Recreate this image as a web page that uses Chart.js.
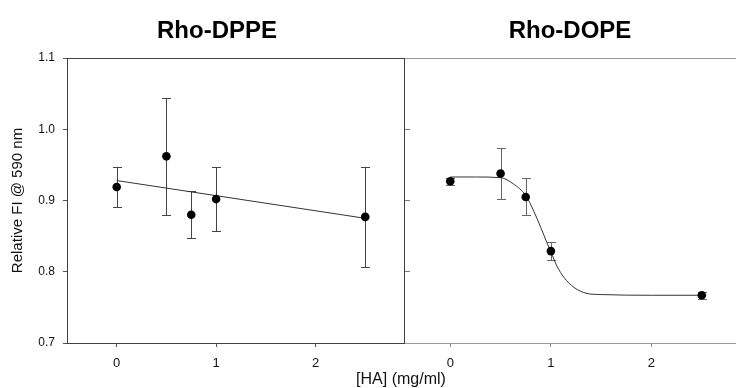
<!DOCTYPE html>
<html>
<head>
<meta charset="utf-8">
<script src="https://cdn.jsdelivr.net/npm/chart.js@4"></script>
<style>
  body { margin: 0; background: #fff; font-family: "Liberation Sans", Arial, sans-serif; }
  #wrap { position: relative; width: 736px; height: 388px; overflow: hidden; background: #fff; }
  canvas { position: absolute; top: 0; }
  #left { left: 0; }
  #right { left: 405px; }
  .title { position: absolute; top: 16px; width: 200px; text-align: center; font-weight: bold; font-size: 24px; line-height: 27px; color: #000; }
  #xtitle { position: absolute; top: 370px; left: 301px; width: 200px; text-align: center; font-size: 16px; line-height: 18px; color: #111; }
</style>
</head>
<body>
<div id="wrap">
  <canvas id="left" width="406" height="388"></canvas>
  <canvas id="right" width="331" height="388"></canvas>
  <div class="title" style="left:117px">Rho-DPPE</div>
  <div class="title" style="left:470px">Rho-DOPE</div>
  <div id="xtitle">[HA] (mg/ml)</div>
</div>
<script>
// HA concentrations (mg/ml)
const doses = [0, 0.5, 0.75, 1, 2.5];

// Rho-DPPE: mean and SD of relative FI, plus linear fit
const dppeMean = [0.919, 0.962, 0.880, 0.902, 0.877];
const dppeSd = [0.028, 0.082, 0.033, 0.045, 0.070];
const dppeFitX = [0, 2.5];
const dppeFitY = [0.928, 0.875];

// Rho-DOPE: mean and SD, plus sigmoidal fit curve
const dopeMean = [0.927, 0.938, 0.905, 0.829, 0.767];
const dopeSd = [0.005, 0.036, 0.026, 0.013, 0.005];
const dopeFitX = [0, 0.25, 0.5, 0.63, 0.75, 0.83, 0.9, 0.96, 1.0, 1.06, 1.13, 1.23, 1.36, 1.5, 2.0, 2.5];
const dopeFitY = [0.933, 0.933, 0.932, 0.923, 0.907, 0.885, 0.862, 0.841, 0.828, 0.808, 0.792, 0.778, 0.7695, 0.768, 0.767, 0.767];

const yTicks = [0.7, 0.8, 0.9, 1.0, 1.1];
const xTicks = [0, 1, 2];

Chart.defaults.font.family = '"Liberation Sans", Arial, sans-serif';
Chart.defaults.color = '#111';

const toPoints = (xs, ys) => xs.map((x, i) => ({ x: x, y: ys[i] }));

// vertical error bars with caps, drawn under the points
const errorBars = {
    id: 'errorBars',
    beforeDatasetsDraw(chart) {
        const { ctx, scales: { x, y } } = chart;
        chart.data.datasets.forEach(ds => {
            if (!ds.errors) return;
            ctx.save();
            ctx.strokeStyle = ds.errorColor;
            ctx.lineWidth = 1;
            ds.data.forEach((p, i) => {
                const px = Math.round(x.getPixelForValue(p.x)) + 0.5;
                const top = Math.round(y.getPixelForValue(p.y + ds.errors[i])) + 0.5;
                const bot = Math.round(y.getPixelForValue(p.y - ds.errors[i])) + 0.5;
                ctx.beginPath();
                ctx.moveTo(px, top); ctx.lineTo(px, bot);
                ctx.moveTo(px - 4.5, top); ctx.lineTo(px + 4.5, top);
                ctx.moveTo(px - 4.5, bot); ctx.lineTo(px + 4.5, bot);
                ctx.stroke();
            });
            ctx.restore();
        });
    }
};

// top (and optionally right) edge of the plot box
const frame = {
    id: 'frame',
    afterDraw(chart, args, opts) {
        const { ctx, chartArea: a } = chart;
        ctx.save();
        ctx.strokeStyle = opts.color;
        ctx.lineWidth = opts.width;
        ctx.beginPath();
        const t = Math.round(a.top) + 0.5;
        ctx.moveTo(a.left, t); ctx.lineTo(a.right, t);
        if (opts.right) {
            const r = Math.round(a.right) - 0.5;
            ctx.moveTo(r, t); ctx.lineTo(r, a.bottom);
        }
        ctx.stroke();
        ctx.restore();
    }
};

// keep the plot box exactly where the layout padding puts it
const noEdgePadding = s => {
    s.paddingLeft = 0; s.paddingRight = 0;
    s.paddingTop = 0; s.paddingBottom = 0;
};

function panel(canvasId, mean, sd, fitX, fitY, cfg) {
    return new Chart(document.getElementById(canvasId), {
        type: 'scatter',
        data: {
            datasets: [
                {
                    data: toPoints(doses, mean),
                    errors: sd,
                    errorColor: cfg.errorColor,
                    pointRadius: 4.3,
                    pointBackgroundColor: '#000',
                    pointBorderWidth: 0,
                },
                {
                    type: 'line',
                    data: toPoints(fitX, fitY),
                    borderColor: '#333',
                    borderWidth: 1,
                    pointRadius: 0,
                    cubicInterpolationMode: 'monotone',
                    fill: false,
                }
            ]
        },
        options: {
            responsive: false,
            animation: false,
            layout: { autoPadding: false, padding: { top: 58, left: 0, right: cfg.padRight, bottom: 0 } },
            scales: {
                x: {
                    type: 'linear',
                    min: cfg.xMin,
                    max: cfg.xMax,
                    afterBuildTicks: s => { s.ticks = xTicks.map(v => ({ value: v })); },
                    afterFit: s => { s.height = 45; noEdgePadding(s); },
                    ticks: { font: { size: 13 }, padding: 9, maxRotation: 0, color: '#111' },
                    grid: { drawOnChartArea: false, tickLength: 4, tickColor: cfg.tickColor },
                    border: { color: cfg.axisColor, width: 1 }
                },
                y: cfg.y
            },
            plugins: {
                legend: { display: false },
                tooltip: { enabled: false },
                frame: { color: cfg.axisColor, width: 1, right: cfg.frameRight }
            }
        },
        plugins: [errorBars, frame]
    });
}

// Rho-DPPE panel, with the shared y axis
panel('left', dppeMean, dppeSd, dppeFitX, dppeFitY, {
    xMin: -0.5, xMax: 2.9, padRight: 1,
    errorColor: '#444', tickColor: '#555', axisColor: '#404040', frameRight: true,
    y: {
        min: 0.7,
        max: 1.1,
        afterBuildTicks: s => { s.ticks = yTicks.map(v => ({ value: v })); },
        afterFit: s => { s.width = 67; noEdgePadding(s); },
        ticks: { font: { size: 12 }, padding: 8, color: '#111', callback: v => v.toFixed(1) },
        grid: { drawOnChartArea: false, tickLength: 4, tickColor: '#555' },
        border: { color: '#404040', width: 1 },
        title: { display: true, text: 'Relative FI @ 590 nm', font: { size: 15 }, color: '#111', padding: { top: 9, bottom: 0 } }
    }
});

// Rho-DOPE panel, ticks pointing into the plot
panel('right', dopeMean, dopeSd, dopeFitX, dopeFitY, {
    xMin: -0.45, xMax: 2.84, padRight: 0,
    errorColor: '#666', tickColor: '#888', axisColor: '#9a9a9a', frameRight: false,
    y: {
        min: 0.7,
        max: 1.1,
        afterBuildTicks: s => { s.ticks = yTicks.map(v => ({ value: v })); },
        afterFit: s => { s.width = 0; noEdgePadding(s); },
        ticks: { display: false },
        grid: { drawOnChartArea: false, tickLength: -5, tickColor: '#777' },
        border: { display: false }
    }
});
</script>
</body>
</html>
